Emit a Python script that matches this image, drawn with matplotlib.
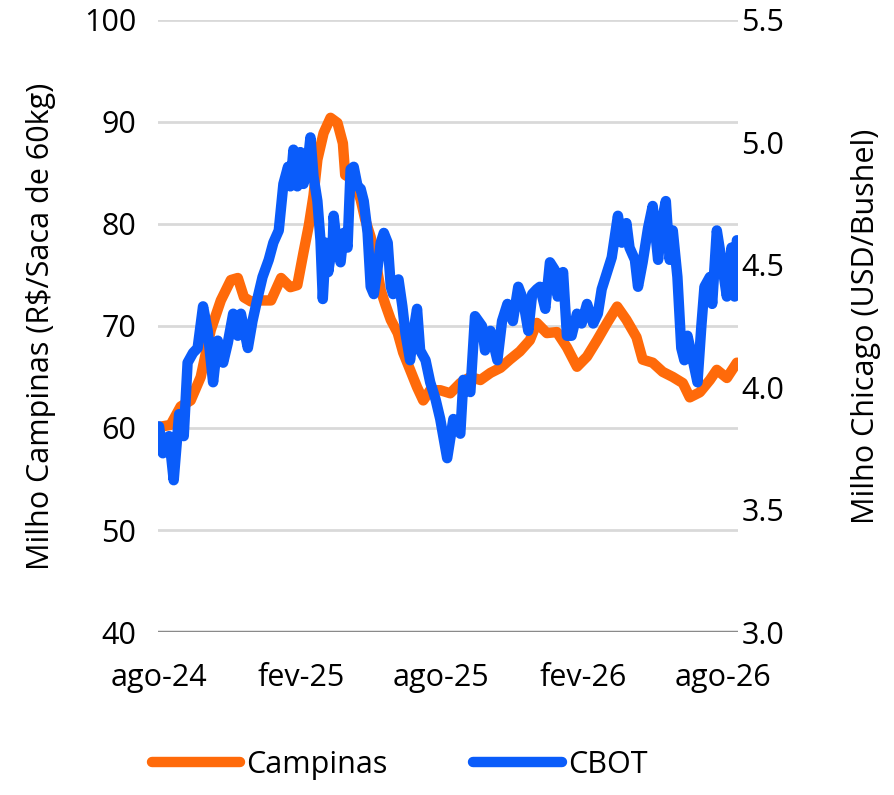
from matplotlib import pyplot as plt
import pandas as pd
import numpy as np

plt.rcParams['font.family'] = ['Open Sans', 'DejaVu Sans']

start = pd.Timestamp('2024-08-01')

# Campinas (R$/saca 60kg) - day offset from start, value
camp_day = [0, 15, 28, 41, 54, 67, 80, 93, 102, 110, 119, 132, 145, 158, 170,
            179, 187, 194, 200, 205, 213, 222, 231, 238, 241, 252, 261, 267,
            274, 280, 287, 293, 300, 309, 316, 325, 334, 342, 351, 364, 377,
            390, 403, 416, 429, 442, 454, 467, 480, 489, 502, 515, 528, 541,
            554, 567, 580, 593, 605, 618, 626, 639, 652, 665, 678, 687, 700,
            713, 722, 735, 748]
camp_val = [60.1, 60.3, 62.1, 62.7, 65.0, 69.6, 72.5, 74.5, 74.7, 72.8, 72.4,
            72.5, 72.5, 74.7, 73.8, 74.0, 77.2, 79.9, 82.8, 86.3, 88.9, 90.4,
            89.9, 87.9, 84.8, 84.3, 82.4, 80.4, 78.7, 76.5, 73.5, 72.1, 70.6,
            69.3, 67.4, 65.7, 64.0, 62.7, 63.7, 63.7, 63.4, 64.4, 65.0, 64.7,
            65.4, 65.9, 66.7, 67.5, 68.6, 70.3, 69.3, 69.4, 67.9, 66.0, 67.0,
            68.6, 70.3, 71.9, 70.6, 68.9, 66.7, 66.4, 65.5, 65.0, 64.4, 63.0,
            63.5, 64.7, 65.7, 64.9, 66.4]

# CBOT (USD/bushel) - day offset from start, value
cbot_day = [0, 5, 13, 19, 26, 32, 37, 44, 50, 57, 63, 70, 76, 83, 89, 96, 102,
            106, 115, 121, 128, 134, 142, 148, 155, 161, 167, 170, 174, 179,
            183, 187, 192, 196, 200, 205, 209, 212, 216, 219, 225, 226, 231,
            235, 239, 244, 248, 252, 257, 261, 265, 270, 274, 278, 283, 287,
            291, 296, 300, 303, 310, 315, 319, 325, 329, 334, 338, 345, 351,
            358, 364, 373, 381, 390, 394, 403, 409, 418, 422, 429, 438, 444,
            451, 458, 465, 471, 478, 483, 489, 493, 500, 506, 512, 516, 523,
            528, 534, 541, 547, 554, 562, 568, 573, 580, 586, 594, 599, 605,
            609, 616, 620, 626, 633, 639, 646, 651, 656, 661, 665, 671, 676,
            680, 684, 691, 697, 702, 706, 713, 716, 722, 728, 735, 741, 745,
            748]
cbot_val = [3.84, 3.73, 3.80, 3.62, 3.89, 3.80, 4.10, 4.14, 4.16, 4.33, 4.23,
            4.02, 4.19, 4.10, 4.18, 4.30, 4.21, 4.30, 4.16, 4.27, 4.37, 4.45,
            4.52, 4.59, 4.64, 4.83, 4.90, 4.82, 4.97, 4.82, 4.96, 4.83, 4.90,
            5.02, 4.86, 4.76, 4.60, 4.36, 4.59, 4.47, 4.60, 4.70, 4.56, 4.51,
            4.63, 4.57, 4.89, 4.90, 4.82, 4.81, 4.76, 4.63, 4.41, 4.38, 4.49,
            4.59, 4.63, 4.59, 4.41, 4.38, 4.44, 4.33, 4.22, 4.11, 4.22, 4.32,
            4.15, 4.11, 4.02, 3.95, 3.87, 3.71, 3.87, 3.81, 4.03, 3.98, 4.29,
            4.25, 4.15, 4.23, 4.11, 4.27, 4.34, 4.27, 4.41, 4.36, 4.23, 4.38,
            4.40, 4.41, 4.32, 4.51, 4.48, 4.37, 4.47, 4.21, 4.21, 4.30, 4.26,
            4.34, 4.26, 4.30, 4.40, 4.47, 4.53, 4.70, 4.59, 4.67, 4.57, 4.52,
            4.41, 4.51, 4.65, 4.74, 4.52, 4.68, 4.76, 4.52, 4.64, 4.45, 4.16,
            4.11, 4.21, 4.11, 4.02, 4.25, 4.41, 4.45, 4.34, 4.64, 4.52, 4.37,
            4.57, 4.37, 4.60]

tick_dates = ['2024-08-01', '2025-02-01', '2025-08-01', '2026-02-01', '2026-08-01']
tick_labels = ['ago-24', 'fev-25', 'ago-25', 'fev-26', 'ago-26']

camp_x = start + pd.to_timedelta(camp_day, unit='D')
cbot_x = start + pd.to_timedelta(cbot_day, unit='D')

fig = plt.figure(figsize=(8.94, 7.95), dpi=100)
ax = fig.add_axes([0.177, 0.205, 0.649, 0.770])
ax2 = ax.twinx()

l1, = ax.plot(camp_x, camp_val, color='#FF6A0A', lw=7.5, solid_capstyle='round',
              solid_joinstyle='round', label='Campinas')
l2, = ax2.plot(cbot_x, cbot_val, color='#0A5CFA', lw=7.5, solid_capstyle='round',
               solid_joinstyle='round', label='CBOT')

ax.set_ylim(40, 100)
ax.set_yticks(np.arange(40, 101, 10))
ax2.set_ylim(3.0, 5.5)
ax2.set_yticks(np.arange(3.0, 5.51, 0.5))
ax2.set_yticklabels(['%.1f' % v for v in np.arange(3.0, 5.51, 0.5)])

ax.set_xlim(start - pd.Timedelta(days=1), start + pd.Timedelta(days=750))
ax.set_xticks(pd.to_datetime(tick_dates))
ax.set_xticklabels(tick_labels)

ax.grid(axis='y', color='#D9D9D9', lw=2)
ax.set_axisbelow(True)
for a in (ax, ax2):
    for s in ['top', 'right', 'left', 'bottom']:
        a.spines[s].set_visible(False)
    a.tick_params(length=0, labelsize=22)
ax.axhline(40, color='#8A8A8A', lw=2.5, zorder=1)
ax.tick_params(axis='x', pad=22)
ax.tick_params(axis='y', pad=16)
ax2.tick_params(axis='y', pad=2)

ax.set_ylabel('Milho Campinas (R$/Saca de 60kg)', fontsize=22, labelpad=20)
ax2.set_ylabel('Milho Chicago (USD/Bushel)', fontsize=22, labelpad=48)

fig.legend(handles=[l1, l2], loc='center', bbox_to_anchor=(0.447, 0.038),
           ncol=2, frameon=False, fontsize=22, handlelength=2.9,
           handletextpad=0.2, columnspacing=2.8)

fig.savefig('out.png', dpi=100)
